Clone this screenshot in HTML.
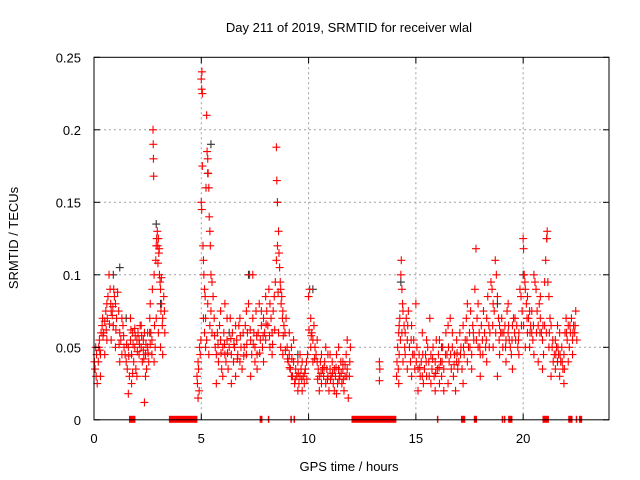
<!DOCTYPE html>
<html><head><meta charset="utf-8"><style>
html,body{margin:0;padding:0;background:#fff;}
svg{display:block;font-family:"Liberation Sans",sans-serif;}
</style></head><body>
<svg id="chart" width="640" height="480" xmlns="http://www.w3.org/2000/svg">
<rect x="0" y="0" width="640" height="480" fill="#fff"/>
<text x="349" y="32" font-size="13" text-anchor="middle">Day 211 of 2019, SRMTID for receiver wlal</text>
<text x="349" y="471" font-size="13" text-anchor="middle">GPS time / hours</text>
<text transform="translate(18,238) rotate(-90)" font-size="13" text-anchor="middle">SRMTID / TECUs</text>
<g id="grid"></g>
<g id="bars"></g>
<g id="black"></g>
<g id="red"></g>
<g id="axes"></g>
</svg>
<script>
const xTicks=[0,5,10,15,20];
const yTicks=[0,0.05,0.1,0.15,0.2,0.25];
const yTickLabels=["0","0.05","0.1","0.15","0.2","0.25"];
const gapStarts=[1.63,3.49,7.72,8.1,9.15,9.3,12.0,15.98,17.1,17.7,19.0,19.1,19.3,20.9,22.1,22.45,22.6];
const gapEnds=[1.93,4.82,7.85,8.14,9.19,9.34,14.09,16.02,17.3,17.85,19.04,19.14,19.5,21.2,22.3,22.5,22.75];
const blackHours=[0.9,1.2,2.9,5.45,8.55,5.3,10.2,14.3,21.1,20.0,7.2,3.1,1.5,6.3,18.8,9.5,16.2,21.6,2.6,11.4];
const blackVals=[0.1,0.105,0.135,0.19,0.15,0.17,0.09,0.095,0.125,0.1,0.1,0.08,0.07,0.06,0.08,0.045,0.05,0.04,0.06,0.035];
const redPairs=[
0.02,.04,0.05,.035,0.08,.05,0.1,.03,0.12,.045,0.15,.025,0.2,.04,0.22,.05,0.25,.055,0.3,.045,0.33,.06,0.38,.065,0.4,.07,0.45,.06,0.5,.068,0.55,.075,0.6,.08,0.62,.07,0.65,.085,0.7,.1,0.75,.09,0.78,.08,0.8,.075,0.85,.072,0.9,.065,0.92,.09,0.95,.085,1.0,.08,1.05,.07,1.1,.088,1.15,.075,1.2,.06,1.25,.055,1.3,.07,1.35,.065,1.4,.05,1.45,.045,0.3,.03,0.5,.045,0.6,.055,0.8,.055,1.0,.05,1.2,.04,1.3,.045,
1.5,.04,1.55,.035,1.6,.05,1.65,.03,1.7,.055,1.75,.045,1.8,.06,1.85,.04,1.9,.05,1.95,.035,2.0,.055,2.05,.06,2.1,.045,2.15,.065,2.2,.05,2.25,.04,2.3,.055,2.35,.06,2.4,.045,2.45,.035,2.5,.05,2.55,.04,1.7,.07,1.6,.018,2.0,.03,2.2,.065,2.4,.03,1.9,.063,2.1,.055,2.3,.048,2.5,.06,1.8,.032,1.75,.025,2.35,.012,
2.6,.07,2.62,.08,2.65,.06,2.7,.055,2.72,.09,2.75,.2,2.76,.19,2.77,.18,2.78,.168,2.8,.1,2.82,.065,2.85,.05,2.88,.11,2.9,.12,2.92,.125,2.95,.13,2.97,.12,3.0,.125,3.02,.115,3.05,.1,3.08,.095,3.1,.09,3.12,.075,3.15,.08,3.18,.065,3.2,.07,3.25,.085,3.28,.075,3.3,.06,2.9,.07,3.0,.06,2.8,.04,2.7,.045,3.1,.05,3.2,.045,
4.8,.03,4.82,.025,4.85,.04,4.87,.035,4.9,.02,4.92,.05,4.95,.045,4.98,.055,4.85,.015,
5.0,.235,5.02,.228,5.03,.24,5.05,.225,5.0,.15,5.02,.145,5.05,.175,5.08,.12,5.1,.11,5.12,.1,5.15,.09,5.18,.085,5.2,.07,5.22,.16,5.25,.21,5.27,.185,5.3,.18,5.32,.17,5.35,.16,5.37,.14,5.4,.13,5.42,.12,5.45,.1,5.5,.095,5.15,.06,5.2,.05,5.25,.055,5.35,.045,5.4,.065,5.45,.075,5.5,.06,5.55,.085,5.1,.07,5.3,.08,
5.6,.07,5.65,.05,5.7,.045,5.75,.06,5.8,.04,5.85,.065,5.9,.055,5.95,.035,6.0,.05,6.05,.06,6.1,.045,6.15,.04,6.2,.055,6.25,.035,6.3,.05,6.35,.07,6.4,.045,6.45,.06,6.5,.04,6.55,.05,6.6,.03,6.65,.055,6.7,.045,6.75,.065,6.8,.04,6.85,.05,6.9,.035,6.95,.06,5.7,.025,6.0,.03,6.2,.07,6.4,.025,6.6,.065,6.8,.07,5.9,.075,6.1,.08,
7.0,.05,7.05,.065,7.1,.045,7.15,.06,7.2,.08,7.25,.1,7.3,.055,7.35,.045,7.4,.07,7.45,.06,7.5,.05,7.55,.075,7.6,.045,7.65,.06,7.7,.08,7.75,.055,7.8,.065,7.85,.05,7.9,.07,7.95,.06,8.0,.085,8.05,.075,8.1,.065,8.15,.09,8.2,.08,8.25,.07,8.3,.06,8.35,.075,8.4,.085,8.45,.095,7.3,.03,7.6,.035,7.9,.04,8.2,.05,7.1,.075,7.5,.04,8.0,.055,8.3,.045,7.4,.1,7.8,.075,
8.5,.188,8.52,.165,8.55,.15,8.5,.11,8.55,.12,8.6,.13,8.62,.115,8.65,.105,8.68,.095,8.7,.09,8.72,.08,8.75,.085,8.78,.07,8.8,.075,8.85,.065,8.9,.06,8.95,.07,8.6,.06,8.7,.05,8.8,.045,
9.0,.05,9.05,.04,9.1,.045,9.15,.035,9.2,.05,9.25,.03,9.3,.04,9.35,.025,9.4,.035,9.45,.03,9.5,.04,9.55,.025,9.6,.03,9.65,.035,9.7,.02,9.75,.03,9.8,.025,9.85,.035,9.9,.04,9.95,.045,9.1,.06,9.3,.055,9.5,.02,9.7,.04,9.2,.03,9.6,.045,
10.0,.085,10.05,.09,10.1,.07,10.15,.06,10.2,.055,10.25,.065,10.3,.05,10.35,.045,10.4,.04,10.45,.035,10.5,.03,10.55,.04,10.6,.025,10.65,.035,10.7,.03,10.75,.04,10.8,.025,10.85,.035,10.9,.03,10.95,.02,11.0,.035,11.05,.03,11.1,.04,11.15,.025,11.2,.035,11.25,.03,11.3,.045,11.35,.025,11.4,.035,11.45,.03,11.5,.04,11.55,.025,11.6,.035,11.65,.02,11.7,.03,11.75,.045,11.8,.035,11.85,.015,11.9,.03,11.95,.05,10.1,.05,10.2,.04,10.4,.055,10.6,.045,10.8,.05,11.0,.045,11.2,.02,11.4,.05,11.6,.04,11.8,.055,10.5,.02,10.9,.045,11.3,.018,11.7,.038,
13.3,.04,13.32,.035,13.3,.027,
14.1,.03,14.12,.04,14.15,.05,14.18,.035,14.2,.06,14.22,.045,14.25,.07,14.28,.055,14.3,.1,14.32,.11,14.35,.09,14.38,.08,14.4,.075,14.45,.065,14.5,.06,14.55,.07,14.6,.055,14.65,.075,14.7,.05,14.75,.04,14.8,.065,14.85,.045,14.9,.055,14.95,.035,14.2,.025,14.4,.04,14.6,.035,14.8,.03,14.5,.045,
15.0,.08,15.05,.05,15.1,.035,15.15,.045,15.2,.03,15.25,.04,15.3,.06,15.35,.025,15.4,.035,15.45,.045,15.5,.03,15.55,.05,15.6,.04,15.65,.07,15.7,.045,15.75,.035,15.8,.05,15.85,.03,15.9,.04,15.95,.055,16.0,.035,16.05,.045,16.1,.025,16.15,.04,16.2,.03,16.25,.05,16.3,.035,16.4,.06,16.45,.045,16.5,.065,16.55,.04,16.6,.07,16.65,.035,16.7,.05,16.75,.03,16.8,.045,16.85,.02,16.9,.04,16.95,.035,15.1,.02,15.3,.03,15.5,.055,15.7,.025,15.9,.02,16.1,.055,16.3,.02,16.5,.025,16.7,.06,16.9,.055,
17.0,.04,17.05,.06,17.1,.05,17.15,.035,17.2,.065,17.25,.045,17.3,.055,17.35,.07,17.4,.04,17.45,.05,17.5,.06,17.55,.075,17.6,.045,17.65,.065,17.7,.055,17.75,.09,17.8,.118,17.85,.07,17.9,.05,17.95,.06,18.0,.045,18.05,.065,18.1,.055,18.15,.075,18.2,.06,18.25,.05,18.3,.07,18.35,.085,18.4,.065,18.45,.06,17.2,.025,17.6,.035,18.0,.03,18.3,.04,17.4,.08,17.9,.08,
18.5,.095,18.55,.09,18.6,.08,18.65,.075,18.7,.11,18.75,.1,18.8,.085,18.85,.07,18.9,.065,18.95,.06,19.0,.07,19.05,.05,19.1,.06,19.15,.065,19.2,.055,19.25,.075,19.3,.06,19.35,.055,19.4,.05,19.45,.045,19.5,.065,19.55,.07,19.6,.06,19.65,.055,19.7,.065,19.75,.05,19.8,.06,19.85,.09,19.9,.085,19.95,.075,18.6,.05,18.9,.045,19.2,.04,19.5,.035,19.8,.045,18.8,.03,19.3,.08,
20.0,.125,20.02,.118,20.05,.1,20.08,.095,20.1,.09,20.15,.08,20.2,.085,20.25,.07,20.3,.075,20.35,.065,20.4,.06,20.45,.055,20.5,.1,20.55,.095,20.6,.09,20.65,.075,20.7,.065,20.75,.08,20.8,.07,20.85,.06,20.9,.055,20.95,.045,20.1,.05,20.3,.05,20.5,.045,20.7,.04,20.9,.035,20.4,.075,20.8,.085,20.2,.06,
21.0,.095,21.05,.11,21.1,.125,21.12,.13,21.15,.095,21.2,.085,21.25,.07,21.3,.065,21.35,.05,21.4,.04,21.45,.045,21.5,.035,21.55,.05,21.6,.04,21.65,.045,21.7,.03,21.75,.04,21.8,.05,21.85,.035,21.9,.045,21.95,.06,22.0,.07,22.05,.055,22.1,.065,22.15,.05,22.2,.06,22.25,.07,22.3,.055,22.35,.065,22.4,.06,22.45,.075,22.5,.055,21.3,.03,21.5,.055,21.7,.06,21.9,.025,22.1,.04,22.3,.045,21.0,.065,21.2,.05,21.6,.065
];
const redExtra=[
0.27,.048,0.42,.058,0.57,.062,0.72,.066,0.88,.078,1.02,.062,1.17,.052,1.38,.058,1.52,.052,1.62,.044,1.72,.062,1.82,.052,1.92,.058,2.02,.047,2.12,.052,2.22,.058,2.32,.042,2.42,.052,2.52,.046,2.62,.052,2.98,.108,3.04,.118,3.14,.098,
5.62,.058,5.78,.052,5.92,.046,6.08,.052,6.22,.046,6.38,.056,6.52,.052,6.68,.042,6.82,.058,6.98,.044,7.12,.052,7.28,.062,7.42,.052,7.58,.058,7.72,.046,7.88,.058,8.02,.066,8.18,.058,8.32,.052,8.42,.062,8.58,.088,8.82,.058,8.92,.048,
9.02,.042,9.12,.036,9.22,.042,9.38,.028,9.52,.032,9.68,.028,9.82,.032,9.92,.028,10.02,.062,10.12,.058,10.28,.042,10.42,.028,10.58,.032,10.72,.036,10.88,.028,11.02,.028,11.12,.032,11.28,.036,11.42,.028,11.52,.032,11.62,.028,11.78,.03,11.92,.04,
14.22,.065,14.35,.06,14.48,.05,14.62,.065,14.78,.055,14.92,.045,15.02,.04,15.18,.036,15.32,.045,15.48,.04,15.62,.03,15.78,.042,15.92,.032,16.08,.036,16.22,.04,16.38,.045,16.52,.05,16.62,.045,16.78,.038,16.92,.046,
17.08,.045,17.22,.05,17.38,.055,17.52,.05,17.68,.06,17.82,.055,17.98,.05,18.12,.045,18.28,.055,18.42,.05,18.58,.065,18.72,.06,18.88,.055,19.02,.06,19.18,.05,19.32,.065,19.48,.055,19.62,.07,19.78,.055,19.92,.065,
20.02,.065,20.18,.07,20.32,.06,20.48,.065,20.62,.06,20.78,.06,20.92,.065,21.08,.06,21.22,.06,21.38,.055,21.52,.045,21.62,.05,21.72,.045,21.82,.04,21.92,.035,22.02,.06,22.18,.065,22.32,.06,22.42,.065
];
const NS="http://www.w3.org/2000/svg";
const L=94,R=609,T=57.3,B=419.8,XMAX=24,YMAX=0.25;
function xs(h){return L+(h/XMAX)*(R-L);}
function ys(v){return B-(v/YMAX)*(B-T);}
function mk(tag,attrs,parent){const e=document.createElementNS(NS,tag);for(const k in attrs)e.setAttribute(k,attrs[k]);parent.appendChild(e);return e;}
const grid=document.getElementById('grid'),axes=document.getElementById('axes'),bars=document.getElementById('bars');
xTicks.forEach(t=>{
  const x=xs(t);
  if(t>0){const g=mk('line',{x1:x,x2:x,y1:T,y2:B,stroke:'#a0a0a0','stroke-dasharray':'2,3','stroke-width':1},grid);
  
  }
  const a=mk('line',{x1:x,x2:x,y1:B,y2:B-6,stroke:'#000'},axes);
  
  
  const b=mk('line',{x1:x,x2:x,y1:T,y2:T+6,stroke:'#000'},axes);
  
  
  const lb=mk('text',{x:x,y:443,'font-size':13,'text-anchor':'middle'},axes);lb.textContent=String(t);
  
  
});
yTicks.forEach((v,i)=>{
  const y=ys(v);
  if(v>0&&v<YMAX){const g=mk('line',{x1:L,x2:R,y1:y,y2:y,stroke:'#a0a0a0','stroke-dasharray':'2,3','stroke-width':1},grid);
  
  }
  const a=mk('line',{x1:L,x2:L+6,y1:y,y2:y,stroke:'#000'},axes);
  
  
  const b=mk('line',{x1:R,x2:R-6,y1:y,y2:y,stroke:'#000'},axes);
  
  
  const lb=mk('text',{x:L-13,y:y+5,'font-size':13,'text-anchor':'end'},axes);lb.textContent=yTickLabels[i];
  
  
});
const frame=mk('rect',{x:L,y:T,width:R-L,height:B-T,fill:'none',stroke:'#000','stroke-width':1},axes);


gapStarts.forEach((s,i)=>{
  const x1=xs(s),x2=xs(gapEnds[i]);
  const r=mk('rect',{x:x1,y:B-4,width:Math.max(1.5,x2-x1),height:7,fill:'#ff0000'},bars);
  
  
});
function plus(g,h,v,col){
  const x=xs(h),y=ys(v);
  const p=mk('path',{d:`M${x-4},${y}H${x+4}M${x},${y-4}V${y+4}`,stroke:col,'stroke-width':1.1,fill:'none'},g);
  return p;
}
const bg=document.getElementById('black');
blackHours.forEach((h,i)=>{
  const p=plus(bg,h,blackVals[i],'#333');
  
  
});
const rg=document.getElementById('red');
for(let i=0;i<redPairs.length;i+=2){
  const p=plus(rg,redPairs[i],redPairs[i+1],'#ff0000');
  
  
}
for(let i=0;i<redExtra.length;i+=2){
  const p=plus(rg,redExtra[i],redExtra[i+1],'#ff0000');
  
  
}
</script>
</body></html>
